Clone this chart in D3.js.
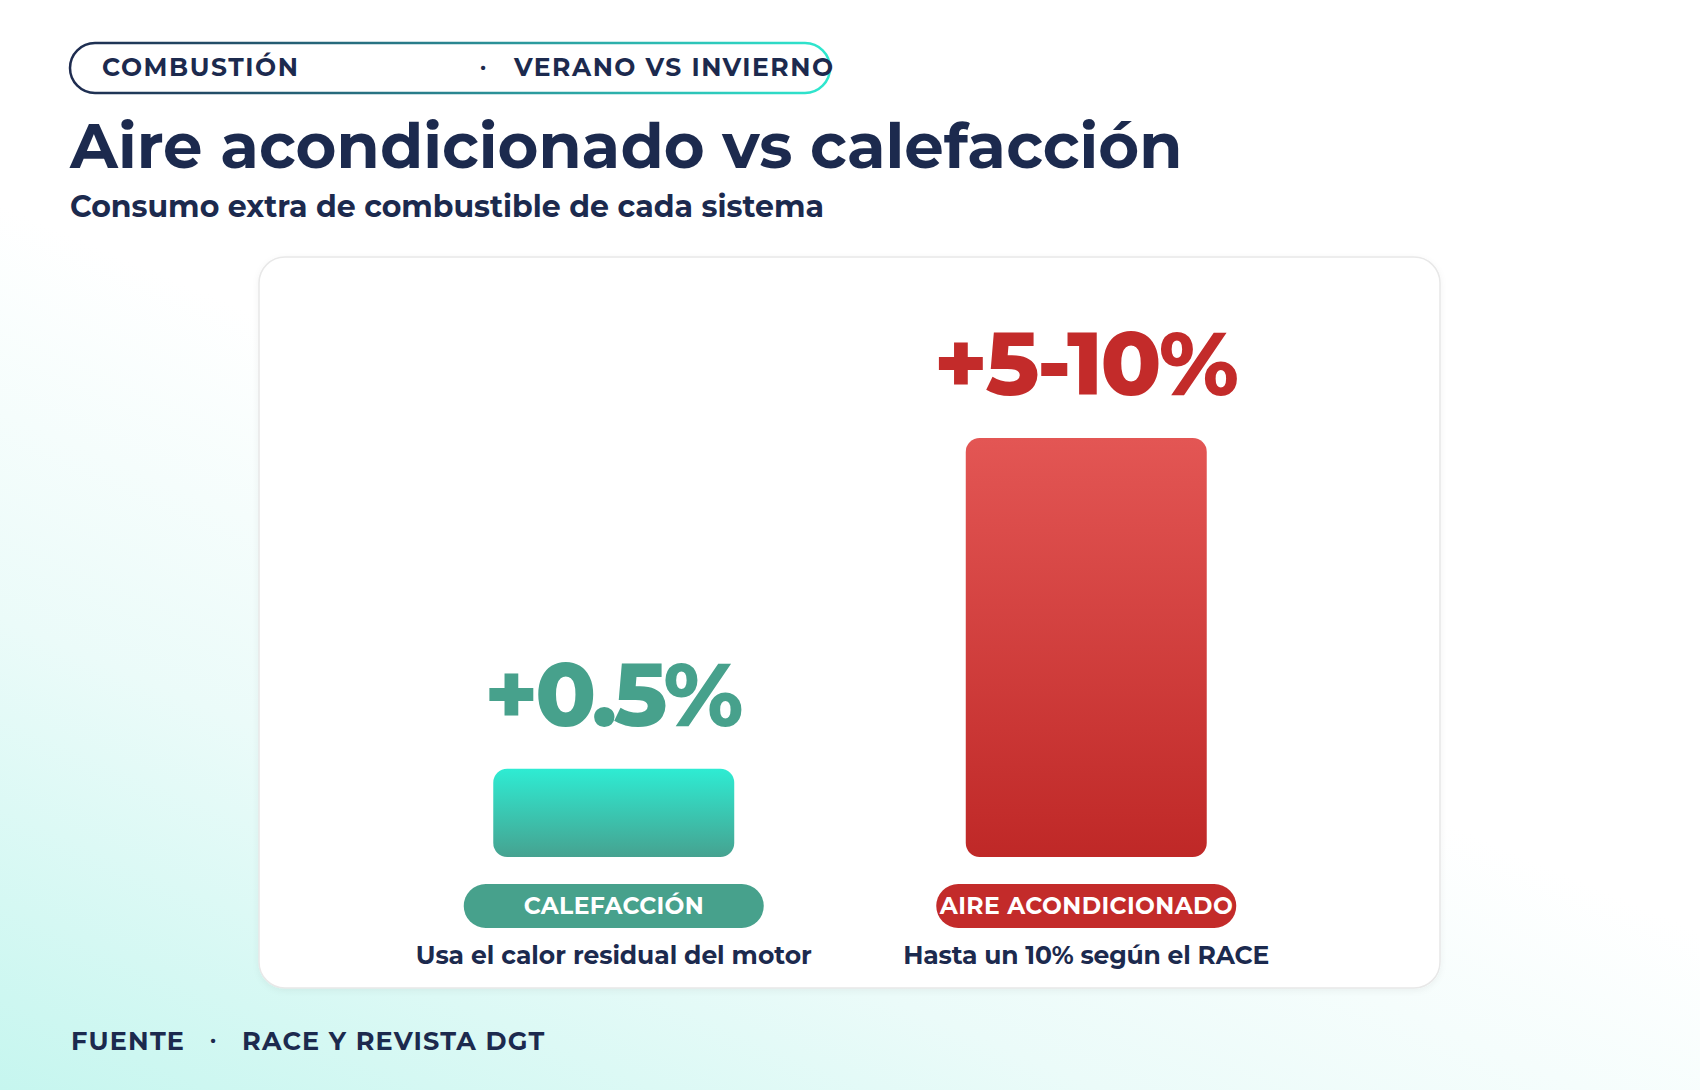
<!DOCTYPE html>
<html lang="es">
<head>
<meta charset="utf-8">
<title>Aire acondicionado vs calefacción</title>
<script src="https://cdn.jsdelivr.net/npm/d3@7"></script>
<style>
  html, body { margin: 0; padding: 0; background: #fff; }
  svg { display: block; font-family: Montserrat, Inter, "Open Sans", sans-serif; }
</style>
</head>
<body>
<svg id="chart" width="1700" height="1090"></svg>
<script>
// ── data ──
const categories = ["CALEFACCIÓN", "AIRE ACONDICIONADO"];
const values = [0.5, 10];           // upper end of the extra consumption, %
const valueLabels = ["+0.5%", "+5-10%"];
const descriptions = ["Usa el calor residual del motor", "Hasta un 10% según el RACE"];
const tags = ["COMBUSTIÓN", "VERANO VS INVIERNO"];
const sourceTags = ["FUENTE", "RACE Y REVISTA DGT"];
const titleText = "Aire acondicionado vs calefacción";
const subtitleText = "Consumo extra de combustible de cada sistema";

const navy = "#1c2a4e";
const palette = {
  "CALEFACCIÓN": { top: "#2eecd3", bottom: "#46a290", solid: "#47a18c" },
  "AIRE ACONDICIONADO": { top: "#e35654", bottom: "#bf2827", solid: "#c32b2a" }
};

const svg = d3.select("#chart");
const defs = svg.append("defs");

// background tint, bottom-left
const bg = defs.append("linearGradient").attr("id", "bg")
  .attr("x1", 0).attr("y1", 1).attr("x2", 0.5).attr("y2", 0.25);
bg.append("stop").attr("offset", 0).attr("stop-color", "#c6f6ef");
bg.append("stop").attr("offset", 0.4).attr("stop-color", "#ebfbf9");
bg.append("stop").attr("offset", 0.75).attr("stop-color", "#ffffff");
svg.append("rect").attr("width", 1700).attr("height", 1090).attr("fill", "url(#bg)");

// tag pill border
const pillGrad = defs.append("linearGradient").attr("id", "pill-border")
  .attr("x1", 0).attr("x2", 1).attr("y1", 0).attr("y2", 0);
pillGrad.append("stop").attr("offset", 0).attr("stop-color", "#1e2b4f");
pillGrad.append("stop").attr("offset", 0.5).attr("stop-color", "#2a8590");
pillGrad.append("stop").attr("offset", 1).attr("stop-color", "#2fe8cf");

categories.forEach((c, i) => {
  const g = defs.append("linearGradient").attr("id", "bar-" + i)
    .attr("x1", 0).attr("x2", 0).attr("y1", 0).attr("y2", 1);
  g.append("stop").attr("offset", 0).attr("stop-color", palette[c].top);
  g.append("stop").attr("offset", 1).attr("stop-color", palette[c].bottom);
});

const shadow = defs.append("filter").attr("id", "card-shadow")
  .attr("x", -0.05).attr("y", -0.05).attr("width", 1.1).attr("height", 1.1);
shadow.append("feDropShadow").attr("dx", 0).attr("dy", 2).attr("stdDeviation", 3)
  .attr("flood-color", "#000").attr("flood-opacity", 0.05);

// fit text to a measured width by letter spacing
function fit(sel, w) {
  sel.attr("textLength", w).attr("lengthAdjust", "spacing");
  return sel;
}

// ── header ──
svg.append("rect")
  .attr("x", 70).attr("y", 43).attr("width", 760).attr("height", 50).attr("rx", 25)
  .attr("fill", "#fff").attr("stroke", "url(#pill-border)").attr("stroke-width", 2.5);

fit(svg.append("text").attr("x", 102).attr("y", 76)
  .attr("font-size", 25).attr("font-weight", 700).attr("fill", navy)
  .text(tags[0]), 196);
svg.append("text").attr("x", 483).attr("y", 74).attr("text-anchor", "middle")
  .attr("font-size", 22).attr("font-weight", 700).attr("fill", navy).text("·");
fit(svg.append("text").attr("x", 514).attr("y", 76)
  .attr("font-size", 25).attr("font-weight", 700).attr("fill", navy)
  .text(tags[1]), 319);

svg.append("text").attr("x", 70).attr("y", 168)
  .attr("font-size", 62.5).attr("font-weight", 700).attr("fill", navy)
  .text(titleText);

svg.append("text").attr("x", 70).attr("y", 217)
  .attr("font-size", 30).attr("font-weight", 700).attr("fill", navy)
  .text(subtitleText);

// ── card ──
svg.append("rect")
  .attr("x", 259).attr("y", 257).attr("width", 1181).attr("height", 731).attr("rx", 26)
  .attr("fill", "#fff").attr("stroke", "#e8e8e8").attr("stroke-width", 1.5)
  .attr("filter", "url(#card-shadow)");

// ── bars ──
const x = d3.scaleBand().domain(categories).range([257, 1443])
  .paddingInner(0.49).paddingOuter(0.5);
const y = d3.scalePow().exponent(0.52).domain([0, 10]).range([857, 438]);

const rows = categories.map((c, i) => ({
  cat: c, value: values[i], label: valueLabels[i], desc: descriptions[i], i
}));

const item = svg.append("g").selectAll("g").data(rows).join("g");

item.append("rect")
  .attr("x", d => x(d.cat))
  .attr("y", d => y(d.value))
  .attr("width", x.bandwidth())
  .attr("height", d => y(0) - y(d.value))
  .attr("rx", 14)
  .attr("fill", d => `url(#bar-${d.i})`);

const valueWidths = [259, 305];
item.append("text")
  .attr("x", d => x(d.cat) + x.bandwidth() / 2)
  .attr("y", d => y(d.value) - 43)
  .attr("text-anchor", "middle")
  .attr("font-size", 89).attr("font-weight", 800)
  .attr("fill", d => palette[d.cat].solid)
  .attr("textLength", d => valueWidths[d.i]).attr("lengthAdjust", "spacing")
  .text(d => d.label);

// category pills
item.append("rect")
  .attr("x", d => x(d.cat) + x.bandwidth() / 2 - 150)
  .attr("y", 884).attr("width", 300).attr("height", 44).attr("rx", 22)
  .attr("fill", d => palette[d.cat].solid);

const catWidths = [180, 293];
item.append("text")
  .attr("x", d => x(d.cat) + x.bandwidth() / 2)
  .attr("y", 914)
  .attr("text-anchor", "middle")
  .attr("font-size", 23.5).attr("font-weight", 700).attr("fill", "#fff")
  .attr("textLength", d => catWidths[d.i]).attr("lengthAdjust", "spacing")
  .text(d => d.cat);

const descWidths = [396, 366];
item.append("text")
  .attr("x", d => x(d.cat) + x.bandwidth() / 2)
  .attr("y", 964)
  .attr("text-anchor", "middle")
  .attr("font-size", 25).attr("font-weight", 700).attr("fill", navy)
  .attr("textLength", d => descWidths[d.i]).attr("lengthAdjust", "spacing")
  .text(d => d.desc);

// ── footer ──
svg.append("text").attr("x", 71).attr("y", 1050)
  .attr("font-size", 25.5).attr("font-weight", 700).attr("fill", navy)
  .attr("letter-spacing", 1.2)
  .text(sourceTags[0]);
svg.append("text").attr("x", 213).attr("y", 1047).attr("text-anchor", "middle")
  .attr("font-size", 22).attr("font-weight", 700).attr("fill", navy).text("·");
svg.append("text").attr("x", 242).attr("y", 1050)
  .attr("font-size", 25.5).attr("font-weight", 700).attr("fill", navy)
  .attr("letter-spacing", 1.2)
  .text(sourceTags[1]);
</script>
</body>
</html>
